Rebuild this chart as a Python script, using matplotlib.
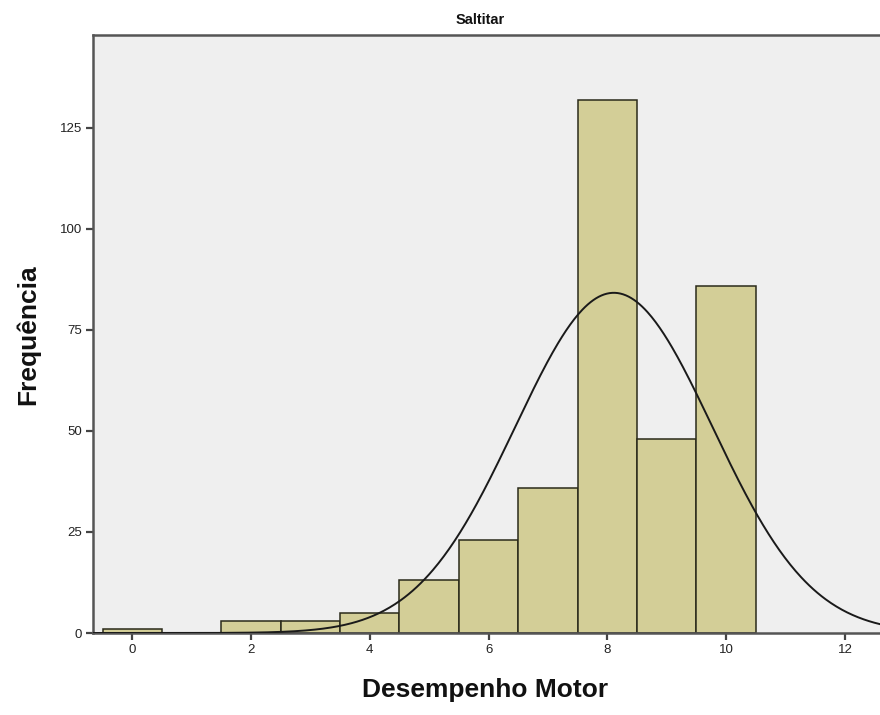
import numpy as np
import matplotlib
matplotlib.use("Agg")
import matplotlib.pyplot as plt

plt.rcParams['font.family'] = ['Liberation Sans', 'DejaVu Sans']

# Data: score values and frequencies
scores = [0, 1, 2, 3, 4, 5, 6, 7, 8, 9, 10]
freqs = [1, 0, 3, 3, 5, 13, 23, 36, 132, 48, 86]
xticks = [0, 2, 4, 6, 8, 10, 12]
yticks = [0, 25, 50, 75, 100, 125]
title = "Saltitar"
xlabel = "Desempenho Motor"
ylabel = "Frequência"

fig = plt.figure(figsize=(8.8, 7.15), dpi=100)
ax = fig.add_axes([93/880, 1 - 633/715, 1 - 93/880 + 0.01, (633 - 35)/715])
ax.set_facecolor('#efefef')

x = np.array(scores, dtype=float)
f = np.array(freqs, dtype=float)
ax.bar(x, f, width=1.0, color='#d3ce97', edgecolor='#2a2a1a', linewidth=1.1, zorder=2)

# Normal curve fitted from the data
n = f.sum()
mean = (x * f).sum() / n
sd = np.sqrt(((x - mean) ** 2 * f).sum() / (n - 1))
xs = np.linspace(-0.7, 13, 600)
ys = n * 1.0 / (sd * np.sqrt(2 * np.pi)) * np.exp(-0.5 * ((xs - mean) / sd) ** 2)
ax.plot(xs, ys, color='#1a1a1a', linewidth=1.4, zorder=3)

ax.set_xlim(-0.66, 12.59 + 0.01 * 880 / 59.4)
ax.set_ylim(0, 148)
ax.set_xticks(xticks)
ax.set_yticks(yticks)
ax.tick_params(axis='both', direction='out', length=5, width=1.6, color='#444444',
               labelsize=9.5, labelcolor='#222222', pad=3)
for side in ['left', 'bottom', 'top', 'right']:
    ax.spines[side].set_color('#555555')
    ax.spines[side].set_linewidth(1.8)

fig.text(480/880, 1 - 20/715, title, ha='center', va='center',
         fontsize=10.5, fontweight='bold', color='#111111')
fig.text(485/880, 1 - 690/715, xlabel, ha='center', va='center',
         fontsize=19, fontweight='bold', color='#111111')
fig.text(28/880, 1 - 335/715, ylabel, ha='center', va='center', rotation=90,
         fontsize=19, fontweight='bold', color='#111111')

fig.savefig('out.png', dpi=100)
